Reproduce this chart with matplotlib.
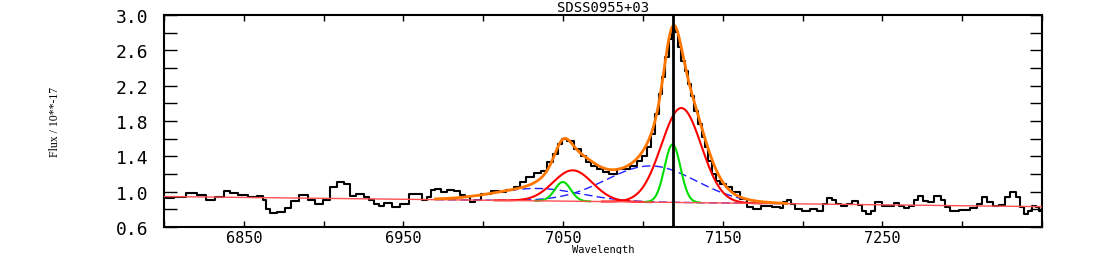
import numpy as np
import matplotlib
matplotlib.use('Agg')
import matplotlib.pyplot as plt
from matplotlib.ticker import MultipleLocator

wave = [6798, 6804, 6809, 6818, 6823, 6829, 6835, 6840, 6843, 6850,
        6855, 6861, 6863, 6865, 6868, 6873, 6878, 6881, 6888, 6892,
        6897, 6902, 6906, 6911, 6915, 6918, 6923, 6927, 6930, 6933,
        6936, 6940, 6946, 6950, 6957, 6960, 6963, 6966, 6968, 6971,
        6976, 6979, 6984, 6987, 6990, 6993, 6996, 7001, 7008, 7012,
        7017, 7021, 7025, 7029, 7034, 7038, 7042, 7045, 7048, 7051,
        7054, 7059, 7063, 7066, 7069, 7073, 7077, 7081, 7086, 7090,
        7094, 7098, 7101, 7104, 7106, 7109, 7111, 7113, 7115, 7117,
        7119, 7121, 7123, 7125, 7127, 7129, 7131, 7133, 7136, 7138,
        7140, 7142, 7144, 7147, 7150, 7154, 7158, 7163, 7167, 7171,
        7177, 7184, 7187, 7189, 7191, 7194, 7197, 7202, 7207, 7211,
        7214, 7217, 7220, 7222, 7226, 7229, 7233, 7236, 7238, 7241,
        7244, 7246, 7249, 7251, 7255, 7259, 7262, 7265, 7268, 7271,
        7274, 7277, 7280, 7285, 7288, 7290, 7295, 7301, 7308, 7311,
        7314, 7317, 7321, 7325, 7328, 7332, 7335, 7337, 7340, 7342,
        7345, 7347, 7349]
flux = [0.935, 0.924, 0.935, 0.980, 0.962, 0.905, 0.943, 1.011, 0.980, 0.965,
        0.935, 0.954, 0.909, 0.803, 0.754, 0.765, 0.811, 0.897, 0.965, 0.905,
        0.860, 0.905, 1.048, 1.105, 1.086, 0.954, 0.973, 0.935, 0.910, 0.860,
        0.833, 0.871, 0.829, 0.860, 0.973, 0.973, 0.905, 0.935, 1.018, 1.030,
        0.999, 1.018, 1.011, 0.961, 0.935, 0.878, 0.909, 0.973, 1.011, 0.992,
        1.022, 1.048, 1.105, 1.162, 1.207, 1.237, 1.331, 1.426, 1.539, 1.596,
        1.577, 1.482, 1.407, 1.340, 1.293, 1.256, 1.218, 1.199, 1.256, 1.256,
        1.293, 1.350, 1.407, 1.501, 1.652, 1.878, 2.105, 2.294, 2.520, 2.728,
        2.841, 2.803, 2.633, 2.482, 2.369, 2.218, 2.086, 1.916, 1.765, 1.614,
        1.501, 1.350, 1.199, 1.124, 1.086, 1.048, 0.991, 0.916, 0.830, 0.800,
        0.833, 0.830, 0.815, 0.886, 0.909, 0.860, 0.803, 0.784, 0.803, 0.777,
        0.860, 0.924, 0.909, 0.860, 0.833, 0.860, 0.890, 0.849, 0.784, 0.747,
        0.784, 0.879, 0.879, 0.833, 0.841, 0.867, 0.841, 0.815, 0.841, 0.909,
        0.954, 0.898, 0.879, 0.947, 0.909, 0.822, 0.784, 0.796, 0.811, 0.860,
        0.935, 0.879, 0.841, 0.849, 0.935, 1.000, 0.935, 0.822, 0.747, 0.784,
        0.841, 0.822, 0.784]

# linear continuum
cont_wave = [6800, 7350]
cont_flux = [0.945, 0.830]

# fitted gaussian components: centre, amplitude, sigma
narrow_cen = [7049.8, 7118.5]
narrow_amp = [0.216, 0.656]
narrow_sig = [5.0, 5.0]
broad_cen = [7056.0, 7124.0]
broad_amp = [0.35, 1.07]
broad_sig = [12.3, 12.5]
wing_cen = [7034.0, 7105.0]
wing_amp = [0.14, 0.41]
wing_sig = [27.0, 28.0]

line_wave = 7119.0
fit_range = [6970, 7190]

yticks = [0.6, 1.0, 1.4, 1.8, 2.2, 2.6, 3.0]
xticks = [6850, 6950, 7050, 7150, 7250]


def gauss(x, c, a, s):
    return a * np.exp(-0.5 * ((x - c) / s) ** 2)


fig = plt.figure(figsize=(10.97, 2.55), dpi=100)
ax = fig.add_axes([0.1495, 0.106, 0.8005, 0.831])

ax.plot(wave, flux, color='black', lw=1.5, drawstyle='steps-mid', zorder=2)

grid = np.linspace(fit_range[0], fit_range[1], 600)
base = np.interp(grid, cont_wave, cont_flux)
total = base.copy()
for c, a, s in zip(wing_cen, wing_amp, wing_sig):
    g = gauss(grid, c, a, s)
    total += g
    ax.plot(grid, base + g, color='#2020ff', lw=1.0, ls=(0, (6, 3)), zorder=3)
for c, a, s in zip(broad_cen, broad_amp, broad_sig):
    g = gauss(grid, c, a, s)
    total += g
    m = np.abs(grid - c) < 4 * s
    ax.plot(grid[m], (base + g)[m], color='#ff0000', lw=1.5, zorder=4)
for c, a, s in zip(narrow_cen, narrow_amp, narrow_sig):
    g = gauss(grid, c, a, s)
    total += g
    m = np.abs(grid - c) < 3.5 * s
    ax.plot(grid[m], (base + g)[m], color='#00dd00', lw=1.5, zorder=4)
ax.plot(cont_wave, cont_flux, color='#ff5050', lw=1.0, zorder=4.5)
ax.plot(grid, total, color='#ff7700', lw=2.0, zorder=5)

ax.axvline(line_wave, color='black', lw=2.0, zorder=6)

ax.set_xlim(6800, 7350)
ax.set_ylim(0.6, 3.0)
ax.set_xticks(xticks)
ax.set_xticklabels([str(v) for v in xticks])
ax.xaxis.set_minor_locator(MultipleLocator(50))
ax.set_yticks(yticks)
ax.set_yticklabels(['%.1f' % v for v in yticks])
ax.yaxis.set_minor_locator(MultipleLocator(0.2))

ax.tick_params(axis='x', which='both', direction='in', length=4, width=1,
               top=True, bottom=True, labelsize=11, pad=2)
ax.tick_params(axis='y', which='both', direction='in', length=9, width=1,
               left=True, right=True, labelsize=13, pad=11)
for lab in ax.get_xticklabels() + ax.get_yticklabels():
    lab.set_fontfamily('DejaVu Sans Mono')
for sp in ax.spines.values():
    sp.set_linewidth(1.5)

ax.set_title('SDSS0955+03', fontsize=10, family='DejaVu Sans Mono', pad=3)
fig.text(0.55, 0.0, 'Wavelength', fontsize=7.5, family='DejaVu Sans Mono',
         ha='center', va='bottom')
ax.set_ylabel('Flux / 10**-17', fontsize=8.5, family='Liberation Serif', labelpad=40)

fig.savefig('out.png', dpi=100)
